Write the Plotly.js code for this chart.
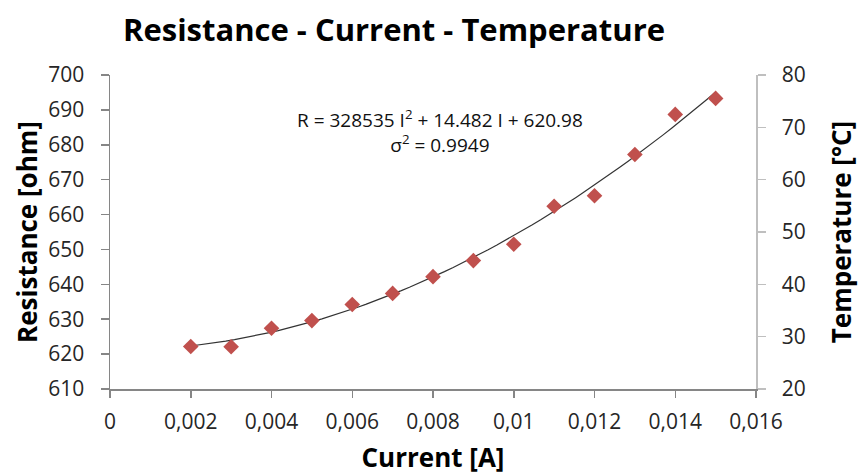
<!DOCTYPE html>
<html><head><meta charset="utf-8">
<script src="https://cdn.plot.ly/plotly-3.0.1.min.js"></script>
<style>html,body{margin:0;padding:0;background:#fff}</style>
</head><body>
<div id="chart" style="width:862px;height:475px"></div>
<script>
const current = [0.002,0.003,0.004,0.005,0.006,0.007,0.008,0.009,0.010,0.011,0.012,0.013,0.014,0.015];
const resistance = [622.2,622.1,627.4,629.6,634.2,637.4,642.2,646.8,651.5,662.4,665.4,677.2,688.7,693.3];
const fitCoef = [328535, 14.482, 620.98]; // a, b, c of R = a I^2 + b I + c
const fitLabel = 'R = 328535 I<sup>2</sup> + 14.482 I + 620.98<br>σ<sup>2</sup> = 0.9949';
const xTicks = [0,0.002,0.004,0.006,0.008,0.010,0.012,0.014,0.016];

const fitX = [], fitY = [];
const lo = current[0], hi = current[current.length-1];
for (let i = 0; i <= 60; i++) {
  const x = lo + (hi - lo) * i / 60;
  fitX.push(x);
  fitY.push(fitCoef[0]*x*x + fitCoef[1]*x + fitCoef[2]);
}

const font = 'Open Sans, Noto Sans, sans-serif';
const tickFont = {family: font, size: 21, color: '#262626'};
const titleFont = {family: font, size: 26, color: '#000', weight: 'bold'};

const data = [
  {x: fitX, y: fitY, mode: 'lines', line: {color: '#333', width: 1.2}, hoverinfo: 'skip', showlegend: false},
  {x: current, y: resistance, mode: 'markers', marker: {symbol: 'diamond', size: 12, color: '#c0504d'}, showlegend: false},
  {x: [], y: [], yaxis: 'y2', mode: 'markers', showlegend: false}
];

const layout = {
  width: 862, height: 475,
  margin: {l: 110, r: 106, t: 75, b: 86},
  paper_bgcolor: '#fff', plot_bgcolor: '#fff',
  separators: ',.',
  title: {text: '<b>Resistance - Current - Temperature</b>', x: 394/862, xref: 'container', xanchor: 'center', y: 1 - 30/475, yref: 'container', yanchor: 'middle', font: {family: font, size: 31, color: '#000'}},
  xaxis: {
    range: [0, 0.016], tickvals: xTicks, showgrid: false, zeroline: false,
    showline: true, linecolor: '#868686', linewidth: 1.5,
    ticks: 'outside', ticklen: 7, tickcolor: '#868686', tickwidth: 1.5,
    tickfont: tickFont, ticklabelstandoff: 6,
    title: {text: 'Current [A]', font: titleFont, standoff: 17}
  },
  yaxis: {
    range: [610, 700], dtick: 10, showgrid: false, zeroline: false,
    showline: true, linecolor: '#868686', linewidth: 1.5,
    ticks: 'outside', ticklen: 8, tickcolor: '#868686', tickwidth: 1.5,
    tickfont: tickFont, ticklabelstandoff: 12,
    title: {text: 'Resistance [ohm]', font: titleFont, standoff: 3}
  },
  yaxis2: {
    overlaying: 'y', side: 'right', range: [20, 80], dtick: 10,
    showgrid: false, zeroline: false,
    showline: true, linecolor: '#bfbfbf', linewidth: 1.5,
    ticks: 'outside', ticklen: 8, tickcolor: '#bfbfbf', tickwidth: 1.5,
    tickfont: tickFont, ticklabelstandoff: 12,
    title: {text: 'Temperature [°C]', font: titleFont, standoff: 28}
  },
  annotations: [{
    xref: 'paper', yref: 'paper', x: (440-110)/646, y: (389-131)/314,
    xanchor: 'center', yanchor: 'middle', showarrow: false, align: 'center',
    text: fitLabel, font: {family: font, size: 19, color: '#111'}
  }]
};

Plotly.newPlot('chart', data, layout, {displayModeBar: false, staticPlot: true});
</script>
</body></html>
